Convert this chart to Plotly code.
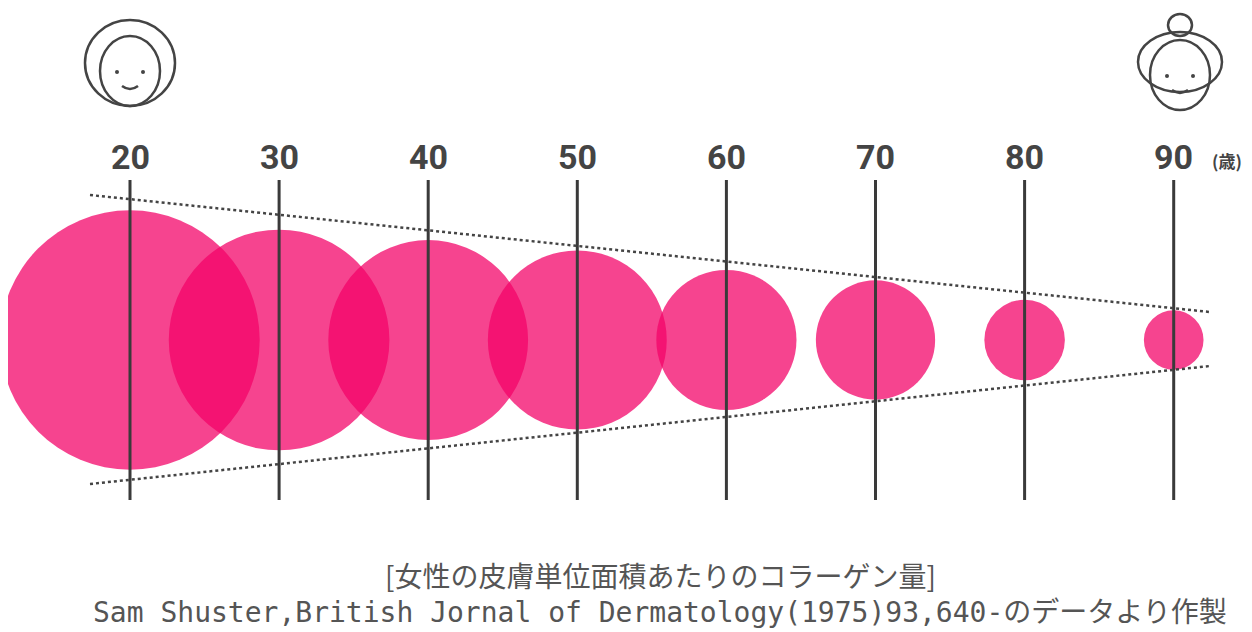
import plotly.graph_objects as go

# ages and relative collagen amount (circle radius, axis units)
ages = [20, 30, 40, 50, 60, 70, 80, 90]
age_labels = ["20", "30", "40", "50", "60", "70", "80", "90"]
collagen_r = [8.7, 7.4, 6.7, 6.0, 4.7, 4.0, 2.7, 2.0]
title_line = "[女性の皮膚単位面積あたりのコラーゲン量]"
source_line = "Sam Shuster,British Jornal of Dermatology(1975)93,640-のデータより作製"

W, H = 1252, 632
PX = 14.91  # pixels per axis unit
OFF = 8  # page offset
x_lo = 20 - (130 - OFF) / PX
x_hi = x_lo + W / PX
y_hi = (340 - OFF) / PX
y_lo = y_hi - H / PX


def px(x, y):
    return x_lo + (x - OFF) / PX, y_hi - (y - OFF) / PX


fig = go.Figure()
shapes = []

# circles
for a, r in zip(ages, collagen_r):
    shapes.append(dict(type="circle", xref="x", yref="y", x0=a - r, x1=a + r, y0=-r, y1=r,
                       fillcolor="rgba(243,3,104,0.74)", line=dict(width=0), layer="below"))

# vertical age lines
for a in ages:
    shapes.append(dict(type="line", x0=a, x1=a, y0=px(0, 180)[1], y1=px(0, 500)[1],
                       line=dict(color="#3a3a3a", width=3)))

# dotted trend lines
for (xa, ya), (xb, yb) in [((90, 195), (1210, 312)), ((90, 484), (1210, 366))]:
    p0, p1 = px(xa, ya), px(xb, yb)
    shapes.append(dict(type="line", x0=p0[0], y0=p0[1], x1=p1[0], y1=p1[1],
                       line=dict(color="#444", width=2.5, dash="dot")))


def face(cx, cy, old=False):
    lc = dict(color="#444", width=2.5)
    # face outline
    a, b = px(cx - 30, cy - 32), px(cx + 30, cy + 38)
    shapes.append(dict(type="circle", x0=a[0], y0=a[1], x1=b[0], y1=b[1], line=lc))
    if old:
        a, b = px(cx - 12, cy - 58), px(cx + 12, cy - 36)
        shapes.append(dict(type="circle", x0=a[0], y0=a[1], x1=b[0], y1=b[1], line=lc))
        a, b = px(cx - 42, cy - 40), px(cx + 42, cy + 20)
        shapes.append(dict(type="circle", x0=a[0], y0=a[1], x1=b[0], y1=b[1], line=lc))
    else:
        a, b = px(cx - 45, cy - 48), px(cx + 45, cy + 38)
        shapes.append(dict(type="circle", x0=a[0], y0=a[1], x1=b[0], y1=b[1], line=lc))
    for dx in (-13, 13):
        a, b = px(cx + dx - 2, cy + 2), px(cx + dx + 2, cy + 6)
        shapes.append(dict(type="circle", x0=a[0], y0=a[1], x1=b[0], y1=b[1],
                           fillcolor="#444", line=dict(width=0)))
    a, b, c = px(cx - 8, cy + 18), px(cx, cy + 24), px(cx + 8, cy + 18)
    shapes.append(dict(type="path", path=f"M {a[0]},{a[1]} Q {b[0]},{b[1]} {c[0]},{c[1]}", line=lc))


face(130, 68)
face(1180, 72, old=True)

fig.add_trace(go.Scatter(x=ages, y=[0] * len(ages), mode="markers",
                         marker=dict(size=1, opacity=0), hoverinfo="skip"))

ann = []
for a, t in zip(ages, age_labels):
    ann.append(dict(x=a, y=px(0, 157)[1], text=f"<b>{t}</b>", showarrow=False,
                    font=dict(size=34, color="#444", family="Roboto")))
ann.append(dict(x=px(1227, 0)[0], y=px(0, 160)[1], text="<b>(歳)</b>", showarrow=False,
                font=dict(size=17, color="#444", family="Noto Sans CJK JP")))
ann.append(dict(x=px(660, 0)[0], y=px(0, 575)[1], text=title_line, showarrow=False,
                font=dict(size=28, color="#555", family="Noto Sans CJK JP")))
ann.append(dict(x=px(660, 0)[0], y=px(0, 612)[1], text=source_line, showarrow=False,
                font=dict(size=28, color="#555", family="DejaVu Sans Mono, Noto Sans CJK JP")))

fig.update_layout(width=W, height=H, margin=dict(l=0, r=0, t=0, b=0),
                  plot_bgcolor="white", paper_bgcolor="white", showlegend=False,
                  shapes=shapes, annotations=ann,
                  xaxis=dict(range=[x_lo, x_hi], visible=False, fixedrange=True),
                  yaxis=dict(range=[y_lo, y_hi], visible=False, fixedrange=True))
fig.write_html("out.html")
